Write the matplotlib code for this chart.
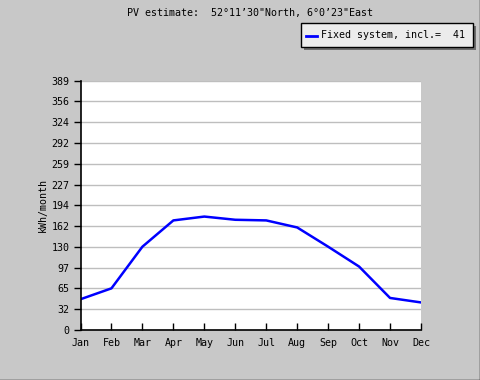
import matplotlib
matplotlib.use("Agg")
import matplotlib.pyplot as plt
import numpy as np
from matplotlib.patches import Rectangle

months = ["Jan", "Feb", "Mar", "Apr", "May", "Jun", "Jul", "Aug", "Sep", "Oct", "Nov", "Dec"]
energy = [48, 65, 130, 171, 177, 172, 171, 160, 130, 99, 50, 43]
ytick_labels = ["0", "32", "65", "97", "130", "162", "194", "227", "259", "292", "324", "356", "389"]
ymax = 389
title = "PV estimate:  52\u00b011\u201930\"North, 6\u00b00\u201923\"East"
legend_label = "Fixed system, incl.=  41"

plt.rcParams['font.family'] = ['DejaVu Sans Mono']
FS = 7.2
W, H = 480, 380
fig = plt.figure(figsize=(W / 100, H / 100), dpi=100)
fig.patch.set_facecolor("#c8c8c8")

# outer frame (right and bottom dark edge)
fig.add_artist(plt.Line2D([479.5 / W, 479.5 / W], [0, 1], color="black", lw=1, transform=fig.transFigure))
fig.add_artist(plt.Line2D([0, 1], [0.5 / H, 0.5 / H], color="black", lw=1, transform=fig.transFigure))

left, right, top, bottom = 80.5, 421, 80.7, 330
ax = fig.add_axes([left / W, (H - bottom) / H, (right - left) / W, (bottom - top) / H])
ax.set_facecolor("white")

x = np.arange(len(months))
ax.plot(x, energy, color="#0000ff", lw=1.8)

ax.set_xlim(0, len(months) - 1)
ax.set_ylim(0, ymax)
ax.set_xticks(x)
ax.set_xticklabels(months, fontsize=FS)
ax.set_yticks(np.linspace(0, ymax, len(ytick_labels)))
ax.set_yticklabels(ytick_labels, fontsize=FS)
ax.yaxis.grid(True, color="#bebebe", lw=1)
ax.set_axisbelow(True)
ax.tick_params(axis="x", direction="in", length=5, width=1, pad=6, colors="black")
ax.tick_params(axis="y", direction="out", length=5, width=1, pad=3, colors="black")
for s in ["top", "right"]:
    ax.spines[s].set_visible(False)
for s in ["left", "bottom"]:
    ax.spines[s].set_linewidth(1.2)
    ax.spines[s].set_color("black")

ax.set_ylabel("kWh/month", fontsize=FS)
ax.yaxis.set_label_coords((48 - left) / (right - left), 0.5)
fig.text(250 / W, 1 - 13 / H, title, ha="center", va="center", fontsize=FS)

# legend box with shadow
lx0, lx1, ly0, ly1 = 301, 473, 23, 46.5
fig.add_artist(Rectangle(((lx0 + 3) / W, (H - ly1 - 3) / H), (lx1 - lx0) / W, (ly1 - ly0) / H,
                         transform=fig.transFigure, facecolor="#6e6e6e", edgecolor="none"))
fig.add_artist(Rectangle((lx0 / W, (H - ly1) / H), (lx1 - lx0) / W, (ly1 - ly0) / H,
                         transform=fig.transFigure, facecolor="#ececec", edgecolor="black", lw=1))
ym = (ly0 + ly1) / 2
fig.add_artist(plt.Line2D([306 / W, 317 / W], [(H - ym - 1.5) / H, (H - ym - 1.5) / H], color="#0000ff", lw=2,
                          transform=fig.transFigure))
fig.text(321 / W, 1 - ym / H, legend_label, ha="left", va="center", fontsize=FS)

fig.savefig("out.png", dpi=100, facecolor=fig.get_facecolor())
